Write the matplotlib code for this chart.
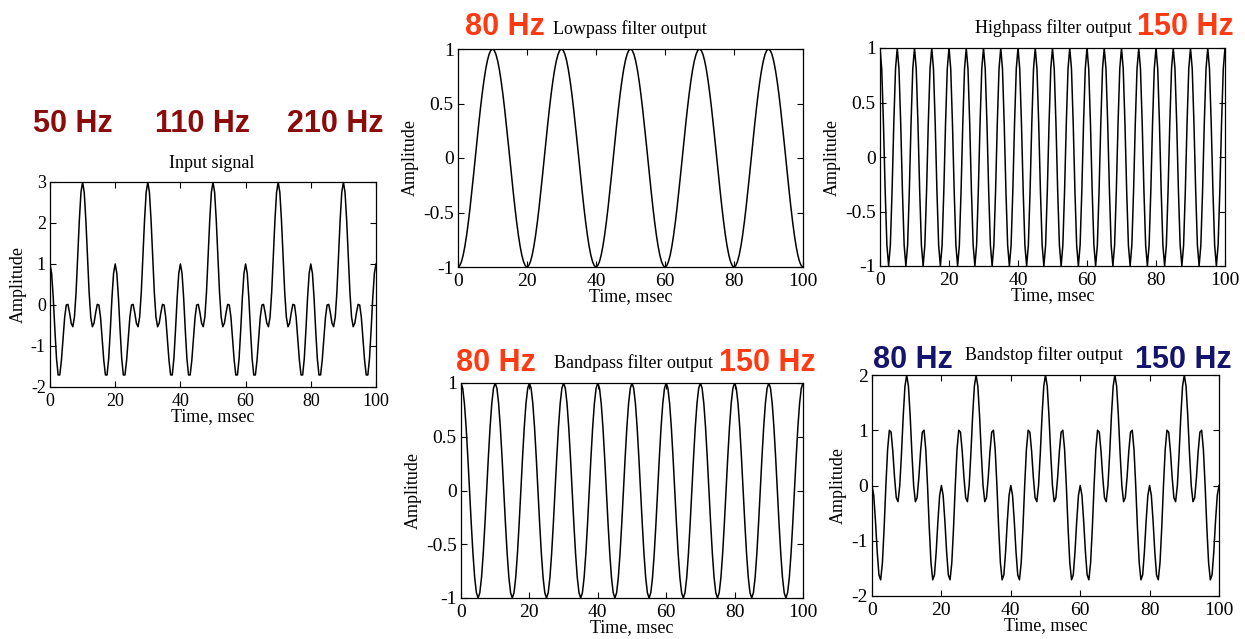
import numpy as np
import matplotlib
matplotlib.use("Agg")
import matplotlib.pyplot as plt
from matplotlib.ticker import FuncFormatter

matplotlib.rcParams['font.family'] = 'Liberation Serif'
matplotlib.rcParams['axes.unicode_minus'] = False

# input signal: three cosine components (freq in Hz, signed amplitude)
comp_freqs = [50, 100, 200]
comp_amps = [-1.0, 1.0, 1.0]
fs = 2000  # samples per second
duration_ms = 100

# text shown above the panels
input_freq_labels = ["50 Hz", "110 Hz", "210 Hz"]
cutoff_low = "80 Hz"
cutoff_high = "150 Hz"

x_ticks = [0, 20, 40, 60, 80, 100]
input_yticks = [-2, -1, 0, 1, 2, 3]
unit_yticks = [-1, -0.5, 0, 0.5, 1]
stop_yticks = [-2, -1, 0, 1, 2]

DARK_RED = "#8b0a0a"
ORANGE = "#ff3a12"
NAVY = "#14146e"

W, H = 1245, 639

t_ms = np.arange(0, duration_ms * fs // 1000 + 1) * 1000.0 / fs
comps = [a * np.cos(2 * np.pi * f * t_ms / 1000.0) for f, a in zip(comp_freqs, comp_amps)]
sig_input = comps[0] + comps[1] + comps[2]
sig_low = comps[0]
sig_high = comps[2]
sig_band = comps[1]
sig_stop = comps[0] + comps[2]


def px_axes(fig, left, right, top, bottom):
    return fig.add_axes([left / W, 1 - bottom / H, (right - left) / W, (bottom - top) / H])


def style(ax, y, yticks, ylim, tick_fs, label_fs):
    ax.plot(t_ms, y, color="black", lw=1.1)
    ax.set_xlim(0, 100)
    ax.set_ylim(*ylim)
    ax.set_xticks(x_ticks)
    ax.set_yticks(yticks)
    ax.yaxis.set_major_formatter(FuncFormatter(lambda v, p: "%g" % v))
    ax.tick_params(direction="in", top=True, right=True, length=4, width=0.8,
                   labelsize=tick_fs)
    ax.tick_params(axis="x", pad=4)
    ax.tick_params(axis="y", pad=3)
    ax.set_xlabel("Time, msec", fontsize=label_fs, labelpad=-1)
    ax.set_ylabel("Amplitude", fontsize=label_fs, labelpad=3)
    for s in ax.spines.values():
        s.set_linewidth(0.9)


def px_text(fig, x, y, s, **kw):
    fig.text(x / W, 1 - y / H, s, **kw)


fig = plt.figure(figsize=(W / 100, H / 100), dpi=100)

ax_in = px_axes(fig, 50, 376, 182, 387)
style(ax_in, sig_input, input_yticks, (-2, 3), 13, 13)

ax_lp = px_axes(fig, 458, 803, 49, 267)
style(ax_lp, sig_low, unit_yticks, (-1, 1), 14, 13)

ax_hp = px_axes(fig, 880, 1225, 48, 266)
style(ax_hp, sig_high, unit_yticks, (-1, 1), 14, 13)

ax_bp = px_axes(fig, 461, 803, 383, 598)
style(ax_bp, sig_band, unit_yticks, (-1, 1), 14, 13)

ax_bs = px_axes(fig, 872, 1219, 375, 596)
style(ax_bs, sig_stop, stop_yticks, (-2, 2), 14, 13)

# panel titles
title_kw = dict(fontsize=13, ha="center", va="center", family="Liberation Serif")
px_text(fig, 212, 164, "Input signal", **title_kw)
px_text(fig, 630, 29, "Lowpass filter output", **title_kw)
px_text(fig, 1053, 28, "Highpass filter output", **title_kw)
px_text(fig, 633, 363, "Bandpass filter output", **title_kw)
px_text(fig, 1044, 355, "Bandstop filter output", **title_kw)

# frequency annotations
hz_kw = dict(fontsize=22, fontweight="bold", family="Liberation Sans", va="baseline")
for x, s in zip([33, 155, 287], input_freq_labels):
    px_text(fig, x, 132, s, color=DARK_RED, ha="left", **hz_kw)
px_text(fig, 465, 35, cutoff_low, color=ORANGE, ha="left", **hz_kw)
px_text(fig, 1234, 35, cutoff_high, color=ORANGE, ha="right", **hz_kw)
px_text(fig, 456, 371, cutoff_low, color=ORANGE, ha="left", **hz_kw)
px_text(fig, 816, 371, cutoff_high, color=ORANGE, ha="right", **hz_kw)
px_text(fig, 873, 368, cutoff_low, color=NAVY, ha="left", **hz_kw)
px_text(fig, 1232, 368, cutoff_high, color=NAVY, ha="right", **hz_kw)

fig.savefig("out.png", dpi=100)
